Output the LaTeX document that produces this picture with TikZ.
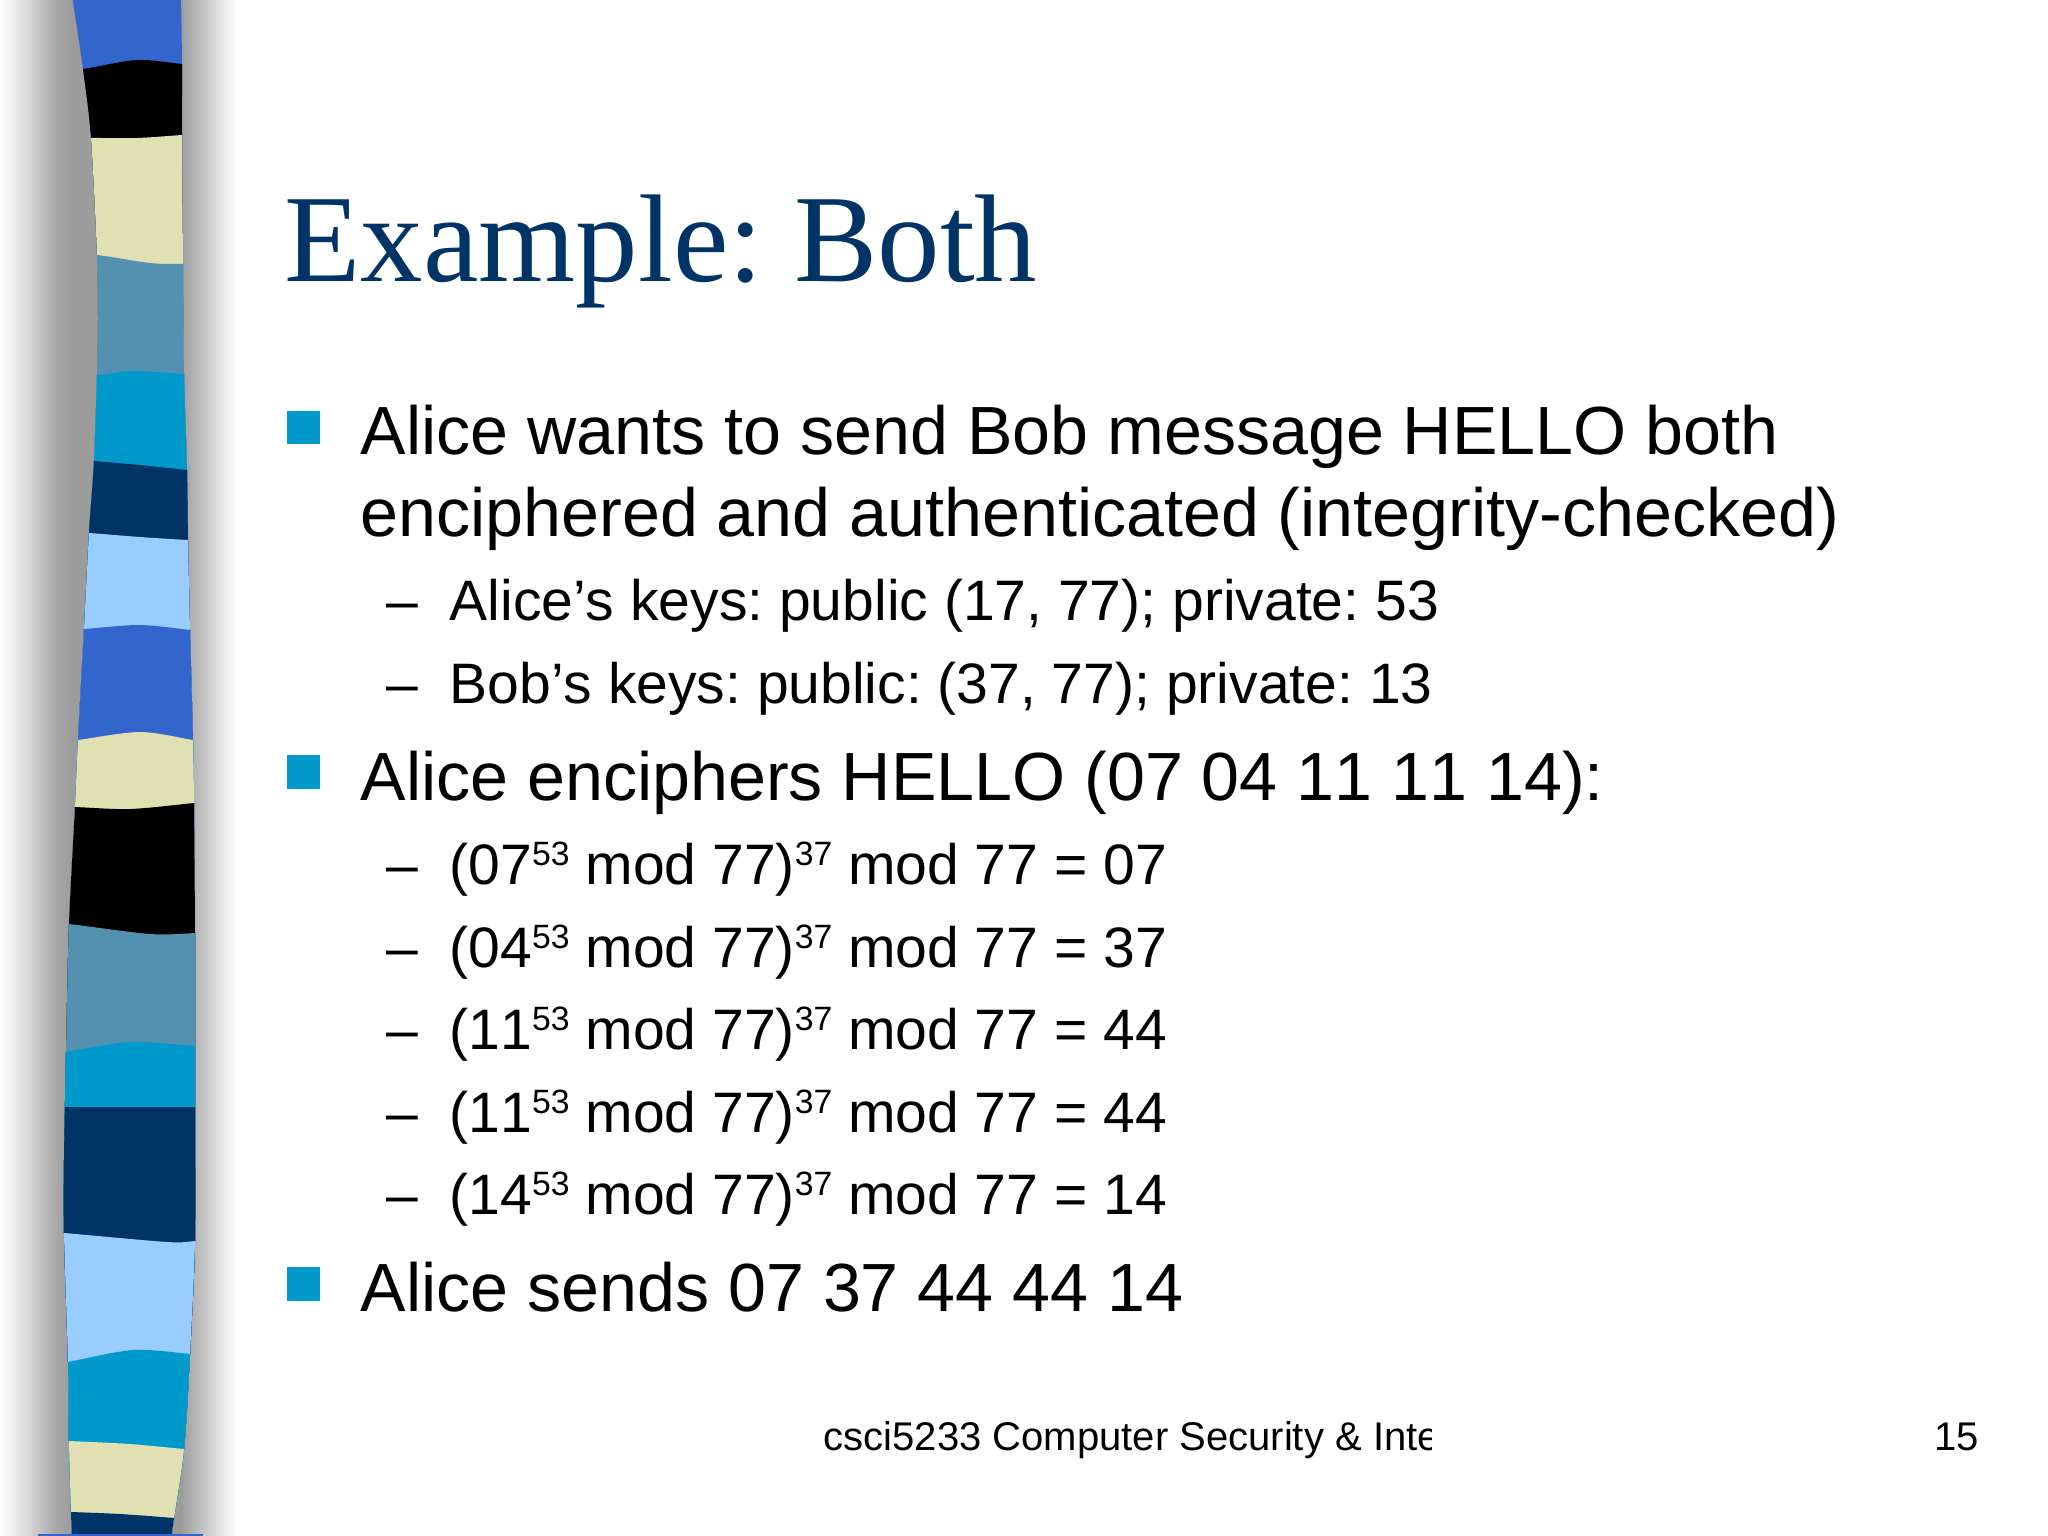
\documentclass[tikz,border=0pt]{standalone}
\usepackage{fontspec}
\setmainfont{Liberation Serif}
\newfontfamily\arialfont[Kerning=Off]{Liberation Sans}
\definecolor{titleblue}{HTML}{003366}
\definecolor{bandcream}{HTML}{E0E0B3}
\definecolor{bandteal}{HTML}{5490AF}
\definecolor{bandcyan}{HTML}{0099CC}
\definecolor{bandnavy}{HTML}{003366}
\definecolor{bandlight}{HTML}{99CCFF}
\definecolor{bandblue}{HTML}{3366CC}
\tikzset{
  slidetitle/.style={anchor=base west,inner sep=0pt,text=titleblue,font=\fontsize{35.5}{40}\selectfont},
  mainitem/.style={anchor=base west,inner sep=0pt,font=\fontsize{19.39}{23}\selectfont\arialfont},
  subitem/.style={anchor=base west,inner sep=0pt,font=\fontsize{16.22}{19}\selectfont\arialfont},
  footitem/.style={anchor=base west,inner sep=0pt,font=\fontsize{11.38}{14}\selectfont\arialfont},
  bulletbox/.style={fill=bandcyan}
}
% one stripe of the band, painted from its upper edge down to the floor
\newcommand{\stripe}[2]{\fill[#1] plot[smooth] coordinates {#2} -- (300,1540) -- (0,1540) -- cycle;}
\newcommand{\upnum}[1]{\raisebox{0.33em}{\fontsize{9.6}{11}\selectfont #1}}
\frenchspacing
\begin{document}
\begin{tikzpicture}[x=0.01cm,y=-0.01cm]
  \useasboundingbox (0,0) rectangle (2048,1536);
  \fill[white] (0,0) rectangle (2048,1536);
  % shadow on both sides of the band
  \shade[left color=white,right color=black!15] (0,0) rectangle (28,1536);
  \shade[left color=black!15,right color=black!34] (27.5,0) rectangle (56,1536);
  \shade[left color=black!34,right color=black!39] (55.5,0) rectangle (72,1536);
  \fill[black!39] (71.5,0) rectangle (190,1536);
  \shade[left color=black!37,right color=black!20] (183,0) rectangle (208,1536);
  \shade[left color=black!20,right color=white] (207.5,0) rectangle (236,1536);
  % the band
  \begin{scope}
    \clip plot[smooth] coordinates {(72,-5) (83,69) (91,138) (97,255) (98,320) (97,375) (94,461) (89,533) (84,629) (78,740) (75,807) (69,924) (66,1052) (64,1160) (64,1233) (68,1362) (69,1441) (71,1512) (72,1540)}
      -- plot[smooth] coordinates {(171,1540) (174,1518) (184,1449) (190,1354) (195,1241) (195,1107) (195,1046) (195,933) (194,803) (193,740) (190,630) (188,540) (187,470) (184,374) (183,264) (182,135) (182,64) (181,-5)} -- cycle;
    \stripe{bandblue}{(40,-10) (280,-10)}
    \stripe{black}{(40,74) (83,69) (137,60) (182,64) (240,70)}
    \stripe{bandcream}{(40,139) (91,138) (137,138) (182,135) (240,131)}
    \stripe{bandteal}{(40,250) (97,255) (150,263) (183,264) (240,264)}
    \stripe{bandcyan}{(40,378) (97,375) (133,371) (184,374) (240,380)}
    \stripe{bandnavy}{(40,457) (94,461) (140,465) (187,470) (240,476)}
    \stripe{bandlight}{(40,530) (89,533) (140,537) (188,540) (240,542)}
    \stripe{bandblue}{(40,632) (84,629) (140,625) (190,630) (240,636)}
    \stripe{bandcream}{(40,745) (78,740) (140,732) (193,740) (240,748)}
    \stripe{black}{(40,806) (75,807) (130,809) (194,803) (240,798)}
    \stripe{bandteal}{(40,922) (69,924) (150,934) (195,933) (240,930)}
    \stripe{bandcyan}{(40,1056) (66,1052) (130,1042) (195,1046) (240,1050)}
    \stripe{bandnavy}{(40,1107) (280,1107)}
    \stripe{bandlight}{(40,1232) (64,1233) (167,1242) (196,1241) (240,1238)}
    \stripe{bandcyan}{(40,1367) (68,1362) (133,1350) (190,1354) (240,1360)}
    \stripe{bandcream}{(40,1440) (69,1441) (130,1444) (184,1449) (240,1454)}
    \stripe{bandnavy}{(40,1511) (71,1512) (120,1514) (174,1518) (240,1524)}
  \end{scope}
  \fill[bandblue] (38,1534) rectangle (203,1536);
  % title and bullets
  \node[slidetitle] (title) at (284,281) {Example: Both};
  \fill[bulletbox] (287,411) rectangle (320,444);
  \node[mainitem] (wants) at (360,454) {Alice wants to send Bob message HELLO both};
  \node[mainitem] (wantsnext) at (360,536) {enciphered and authenticated (integrity-checked)};
  \node[subitem] (dasha) at (386,620) {–};
  \node[subitem] (keysa) at (449,620) {Alice’s keys: public (17, 77); private: 53};
  \node[subitem] (dashb) at (386,703) {–};
  \node[subitem] (keysb) at (449,703) {Bob’s keys: public: (37, 77); private: 13};
  \fill[bulletbox] (287,755) rectangle (320,789);
  \node[mainitem] (enciphers) at (360,800) {Alice enciphers HELLO (07 04 11 11 14):};
  \node[subitem] (dashc) at (386,884) {–};
  \node[subitem] (calca) at (449,884) {(07\upnum{53} mod 77)\upnum{37} mod 77 = 07};
  \node[subitem] (dashd) at (386,967) {–};
  \node[subitem] (calcb) at (449,967) {(04\upnum{53} mod 77)\upnum{37} mod 77 = 37};
  \node[subitem] (dashe) at (386,1049) {–};
  \node[subitem] (calcc) at (449,1049) {(11\upnum{53} mod 77)\upnum{37} mod 77 = 44};
  \node[subitem] (dashf) at (386,1132) {–};
  \node[subitem] (calcd) at (449,1132) {(11\upnum{53} mod 77)\upnum{37} mod 77 = 44};
  \node[subitem] (dashg) at (386,1214) {–};
  \node[subitem] (calce) at (449,1214) {(14\upnum{53} mod 77)\upnum{37} mod 77 = 14};
  \fill[bulletbox] (287,1267) rectangle (320,1301);
  \node[mainitem] (sends) at (360,1311) {Alice sends 07 37 44 44 14};
  % footer, its text is cut off at the edge of its box
  \begin{scope}
    \clip (800,1400) rectangle (1431,1480);
    \node[footitem] (course) at (823,1450) {csci5233 Computer Security \& Integrity};
  \end{scope}
  \node[footitem] (pagenum) at (1934,1450) {15};
\end{tikzpicture}
\end{document}
